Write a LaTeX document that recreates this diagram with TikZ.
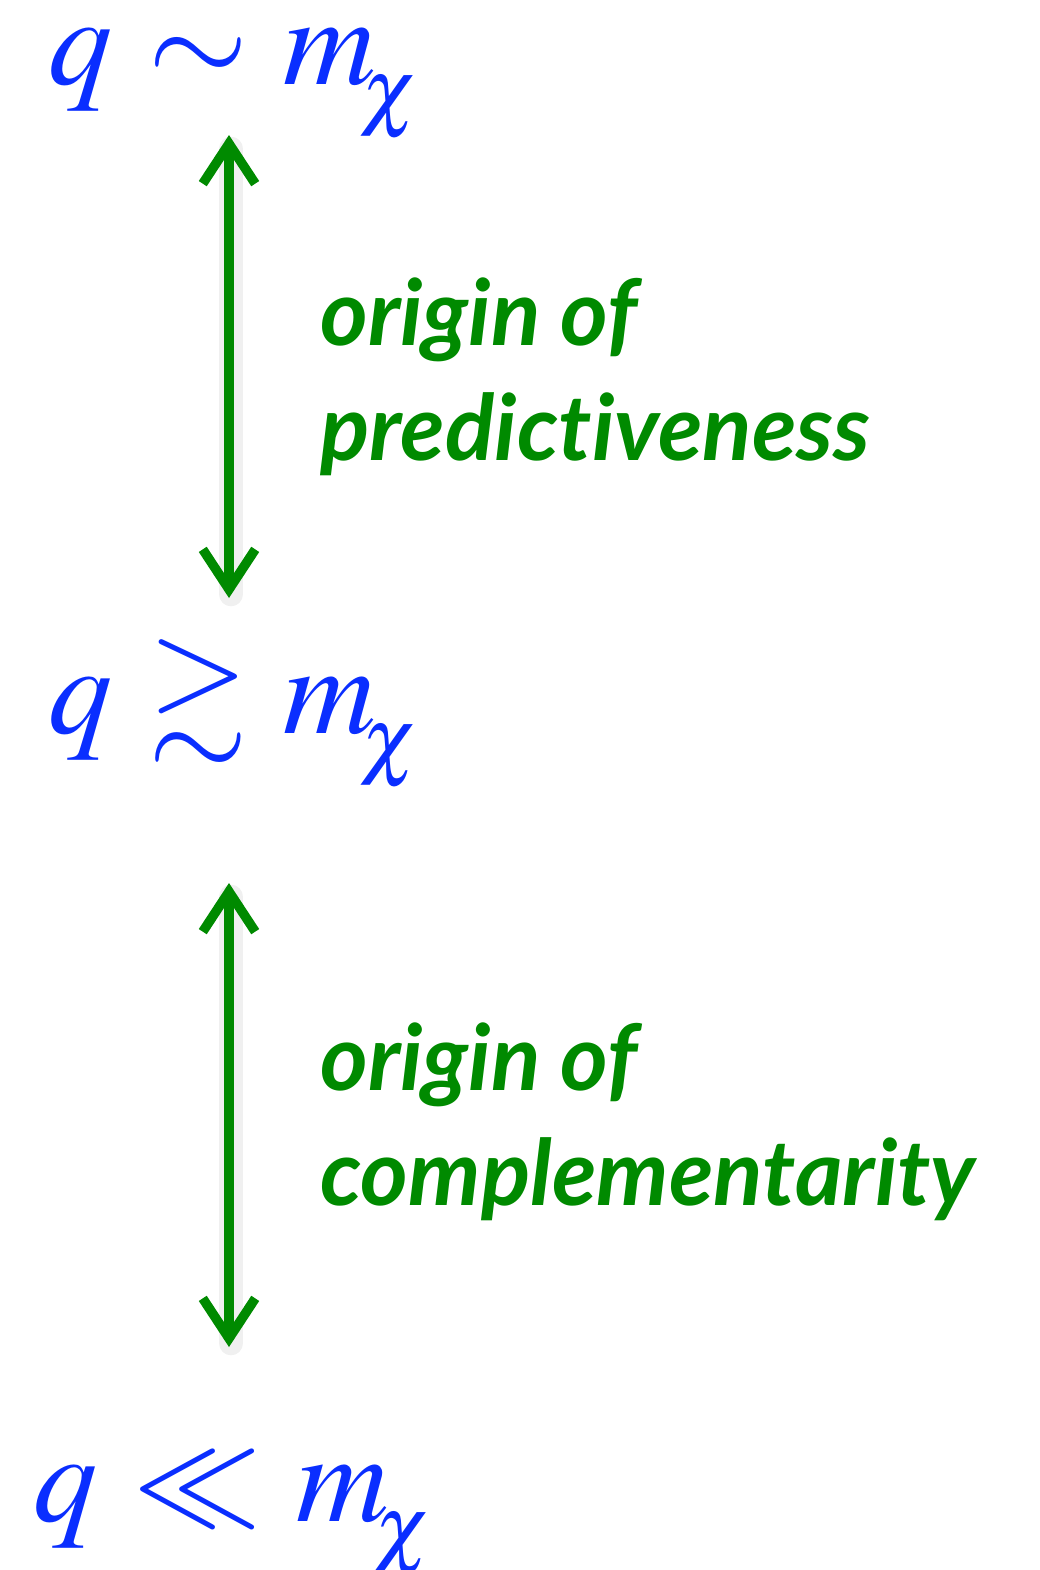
\documentclass[tikz,border=0pt]{standalone}
\usepackage{amssymb}
\usepackage{mathptmx}
\usepackage{fontspec}
\usepackage{xcolor}
\usetikzlibrary{arrows.meta}
\newfontfamily\notefont[Ligatures={NoCommon,NoRare}]{Lato}
\definecolor{mathblue}{RGB}{10,46,255}
\definecolor{notegreen}{RGB}{0,138,0}
% lowered subscript chi
\newcommand{\mchi}{m_{\mkern-3mu\lower9pt\hbox{\fontsize{50}{50}\selectfont$\chi$}}}
\newcommand{\rel}[1]{\mkern1mu#1\mkern1mu}

\begin{document}
\begin{tikzpicture}[
x=0.02cm, y=-0.02cm,
    scalelabel/.style={anchor=base west, inner sep=0pt, text=mathblue, font=\fontsize{73}{80}\selectfont},
    note/.style={anchor=base west, inner sep=0pt, text=notegreen, align=left, font=\notefont\bfseries\itshape\fontsize{52}{65}\selectfont},
    link/.style={draw=notegreen, line width=5.4pt, {Straight Barb[length=0.8cm, width=1.05cm]}-{Straight Barb[length=0.8cm, width=1.05cm]}},
    linkshadow/.style={draw=black, opacity=0.06, line width=14pt, line cap=round}
]
    \useasboundingbox (0,0) rectangle (1039,1570);

    % --- Momentum regimes ---
    \node[scalelabel] (heavy) at (48, 84) {$q \rel{\sim} \mchi$};
    \node[scalelabel] (mid) at (48, 733) {$q \rel{\gtrsim} \mchi$};
    \node[scalelabel] (light) at (33, 1521) {$q \rel{\ll} \mchi$};

    % --- Arrow end points ---
    \coordinate (a1top) at (229, 135);
    \coordinate (a1bot) at (229, 598);
    \coordinate (a2top) at (229, 883);
    \coordinate (a2bot) at (229, 1347);

    % Shadows
    \draw[linkshadow] ([shift={(2,14)}]a1top) -- ([shift={(2,-4)}]a1bot);
    \draw[linkshadow] ([shift={(2,14)}]a2top) -- ([shift={(2,-4)}]a2bot);

    \draw[link] (a1top) -- (a1bot);
    \draw[link] (a2top) -- (a2bot);

    % --- Notes ---
    \node[note] (pred) at (320, 460) {origin of\\predictiveness};
    \node[note] (comp) at (320, 1205) {origin of\\complementarity};

\end{tikzpicture}
\end{document}
